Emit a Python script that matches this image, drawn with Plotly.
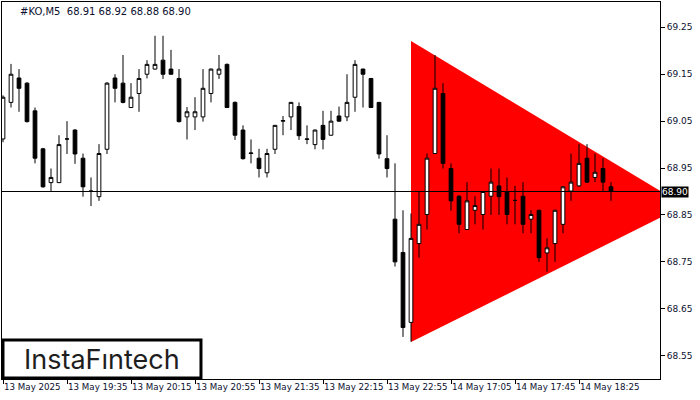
import plotly.graph_objects as go

# ---- data (#KO, M5) ----
opens = [69.012, 69.090, 69.142, 69.131, 69.072, 68.991, 68.919, 68.919, 69.012, 69.031,
         68.971, 68.900, 68.889, 68.990, 69.142, 69.131, 69.079, 69.109, 69.150, 69.161,
         69.180, 69.161, 69.141, 69.059, 69.059, 69.059, 69.109, 69.150, 69.171, 69.090,
         69.031, 68.981, 68.971, 68.940, 68.990, 69.050, 69.059, 69.081, 69.011, 69.000,
         69.041, 69.020, 69.061, 69.059, 69.101, 69.161, 69.141, 69.090, 68.970, 68.841,
         68.770, 68.621, 68.789, 68.851, 68.981, 69.109, 68.949, 68.890, 68.819, 68.860,
         68.851, 68.890, 68.912, 68.900, 68.881, 68.890, 68.841, 68.860, 68.769, 68.789,
         68.830, 68.901, 68.912, 68.971, 68.930, 68.949, 68.910]
highs = [69.105, 69.172, 69.161, 69.133, 69.079, 68.993, 68.949, 69.020, 69.050, 69.033,
         68.981, 68.930, 69.001, 69.133, 69.150, 69.191, 69.131, 69.161, 69.180, 69.232,
         69.232, 69.202, 69.161, 69.080, 69.101, 69.161, 69.162, 69.191, 69.173, 69.092,
         69.041, 69.011, 68.991, 68.991, 69.042, 69.061, 69.091, 69.090, 69.041, 69.032,
         69.072, 69.072, 69.081, 69.150, 69.180, 69.162, 69.142, 69.091, 69.020, 68.960,
         68.860, 68.853, 68.900, 68.981, 69.191, 69.131, 68.960, 68.892, 68.920, 68.890,
         68.901, 68.949, 68.949, 68.930, 68.912, 68.920, 68.860, 68.861, 68.800, 68.861,
         68.911, 68.981, 69.001, 69.001, 68.981, 68.971, 68.920]
lows = [69.005, 69.079, 69.070, 69.047, 68.960, 68.908, 68.900, 68.918, 68.980, 68.959,
        68.889, 68.869, 68.880, 68.980, 69.090, 69.088, 69.078, 69.070, 69.141, 69.160,
        69.140, 69.149, 69.047, 69.011, 69.031, 69.049, 69.090, 69.140, 69.078, 69.010,
        68.968, 68.960, 68.930, 68.930, 68.980, 69.020, 69.031, 69.010, 69.001, 68.990,
        68.990, 69.019, 69.049, 69.050, 69.070, 69.079, 69.078, 68.970, 68.930, 68.740,
        68.590, 68.580, 68.759, 68.819, 68.980, 68.949, 68.859, 68.811, 68.818, 68.830,
        68.819, 68.850, 68.850, 68.830, 68.830, 68.811, 68.811, 68.750, 68.729, 68.750,
        68.811, 68.880, 68.910, 68.919, 68.920, 68.901, 68.880]
closes = [69.101, 69.150, 69.120, 69.049, 68.971, 68.910, 68.930, 69.000, 69.012, 68.980,
          68.910, 68.901, 68.981, 69.131, 69.120, 69.090, 69.101, 69.141, 69.171, 69.171,
          69.150, 69.150, 69.049, 69.070, 69.070, 69.120, 69.161, 69.161, 69.079, 69.020,
          68.970, 68.982, 68.949, 68.981, 69.041, 69.051, 69.090, 69.019, 69.012, 69.031,
          69.011, 69.050, 69.050, 69.090, 69.171, 69.150, 69.079, 68.980, 68.949, 68.750,
          68.610, 68.800, 68.830, 68.971, 69.120, 68.960, 68.880, 68.830, 68.880, 68.870,
          68.900, 68.920, 68.889, 68.851, 68.881, 68.830, 68.851, 68.759, 68.780, 68.860,
          68.910, 68.920, 68.960, 68.920, 68.941, 68.920, 68.900]

tick_bars = [0, 8, 16, 24, 32, 40, 48, 56, 64, 72]
tick_labels = ["13 May 2025", "13 May 19:35", "13 May 20:15", "13 May 20:55",
               "13 May 21:35", "13 May 22:15", "13 May 22:55", "14 May 17:05",
               "14 May 17:45", "14 May 18:25"]
price_ticks = [68.55, 68.65, 68.75, 68.85, 68.95, 69.05, 69.15, 69.25]

# symmetrical triangle pattern vertices (bar index, price)
tri_x = [51, 51, 85.2]
tri_y = [69.221, 68.579, 68.870]

current_price = 68.90
title_text = "#KO,M5  68.91 68.92 68.88 68.90"
logo_text = "InstaF\u0131ntech"

# ---- build figure ----
n = len(opens)
xs = list(range(n))

fig = go.Figure()

fig.add_trace(go.Candlestick(
    x=xs, open=opens, high=highs, low=lows, close=closes,
    increasing=dict(line=dict(color="black", width=1), fillcolor="white"),
    decreasing=dict(line=dict(color="black", width=1), fillcolor="black"),
    whiskerwidth=0, hoverinfo="skip", showlegend=False))

tri_path = "M {} {} L {} {} L {} {} Z".format(tri_x[0], tri_y[0], tri_x[1], tri_y[1],
                                              tri_x[2], tri_y[2])

axis_font = dict(family="DejaVu Sans", size=8.7, color="#0b1030")

fig.update_layout(
    width=700, height=400,
    margin=dict(l=2, r=40, t=2, b=21, autoexpand=False),
    paper_bgcolor="white", plot_bgcolor="white",
    showlegend=False, boxgap=0.34,
    xaxis=dict(range=[-0.125, 82.125], tickmode="array", tickvals=tick_bars,
               ticktext=tick_labels, ticks="outside", ticklen=4, tickcolor="black",
               ticklabelposition="outside right", tickangle=0, tickfont=axis_font,
               showgrid=False, zeroline=False, showline=True, linecolor="black",
               linewidth=1, mirror=True, fixedrange=True, automargin=False,
               rangeslider=dict(visible=False)),
    yaxis=dict(range=[68.5003, 69.304], side="right", tickmode="array",
               tickvals=price_ticks, ticktext=[f"{v:.2f}" for v in price_ticks],
               ticks="outside", ticklen=4, tickcolor="black",
               tickfont=dict(family="DejaVu Sans", size=9, color="#0b1030"),
               showgrid=False, zeroline=False, showline=True, linecolor="black",
               linewidth=1, mirror=True, fixedrange=True, automargin=False),
    shapes=[
        dict(type="path", xref="x", yref="y", path=tri_path, fillcolor="#ff0000",
             line=dict(width=0), layer="below"),
        dict(type="line", xref="paper", x0=0, x1=1, yref="y", y0=current_price,
             y1=current_price, line=dict(color="black", width=1)),
        dict(type="rect", xref="paper", yref="paper", x0=0.0015, x1=0.3024,
             y0=0.0027, y1=0.1034, fillcolor="white", line=dict(color="black", width=3)),
    ],
    annotations=[
        dict(text=title_text, xref="paper", yref="paper", x=0.0243, y=0.976,
             xanchor="left", yanchor="middle", showarrow=False,
             font=dict(family="DejaVu Sans", size=10, color="#0b1030")),
        dict(text=f"{current_price:.2f}", xref="paper", yref="y", x=1, y=current_price,
             xanchor="left", yanchor="middle", xshift=1, showarrow=False,
             bgcolor="black", font=dict(family="DejaVu Sans", size=9, color="white"),
             borderpad=0),
        dict(text=logo_text, xref="paper", yref="paper", x=0.152, y=0.053,
             xanchor="center", yanchor="middle", showarrow=False,
             font=dict(family="Inter", size=27, color="#1e1e1e")),
    ],
)

fig.write_html("out.html", config={"displayModeBar": False},
               post_script="document.body.style.margin='0';")
